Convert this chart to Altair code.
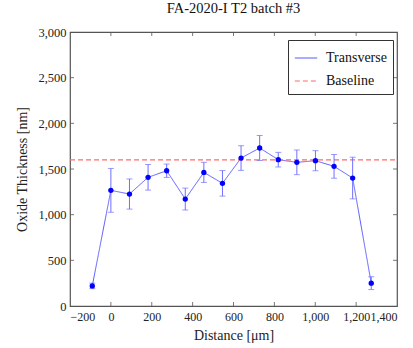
import altair as alt
import pandas as pd

distance = [-91, 0, 91, 182, 273, 364, 455, 546, 637, 728, 819, 910, 1001, 1092, 1183, 1274]
thickness = [220, 1266, 1226, 1409, 1481, 1171, 1463, 1343, 1620, 1730, 1602, 1573, 1591, 1529, 1401, 250]
error = [30, 240, 165, 140, 73, 120, 110, 140, 135, 137, 80, 135, 110, 130, 228, 70]
baseline = 1600
x_ticks = [-200, 0, 200, 400, 600, 800, 1000, 1200, 1400]
y_ticks = [0, 500, 1000, 1500, 2000, 2500, 3000]

W, H = 327, 274
FONT = "Liberation Serif, serif"
BLUE = "#0000ff"
LINE_BLUE = "#5a5aff"
ERR_BLUE = "#6f6fff"
RED = "#ff6b6b"
FRAME = "#555555"

df = pd.DataFrame({
    "d": distance,
    "t": thickness,
    "lo": [t - e for t, e in zip(thickness, error)],
    "hi": [t + e for t, e in zip(thickness, error)],
    "series": ["Transverse"] * len(distance),
})
base_df = pd.DataFrame({"d": [-200, 1400], "t": [baseline, baseline], "series": ["Baseline", "Baseline"]})

xs = alt.Scale(domain=[-200, 1400], nice=False, zero=False)
ys = alt.Scale(domain=[0, 3000], nice=False)

fonts = dict(labelFont=FONT, titleFont=FONT, titleFontSize=14,
             titleFontWeight="normal", labelColor="#222", titleColor="#222")
x_axis = alt.Axis(values=x_ticks, labelPadding=5, ticks=False, grid=False, domain=False,
                  labelOverlap=False, title="Distance [μm]", titlePadding=6, labelFontSize=12,
                  labelExpr="datum.value < 0 ? '−' + format(-datum.value, ',') : format(datum.value, ',')",
                  **fonts)
y_axis = alt.Axis(values=y_ticks, labelPadding=4, ticks=False, grid=False, domain=False,
                  labelOverlap=False, title="Oxide Thickness [nm]", titlePadding=8, labelFontSize=12.5,
                  labelExpr="format(datum.value, ',')", **fonts)

color = alt.Color("series:N",
                  scale=alt.Scale(domain=["Transverse", "Baseline"], range=[LINE_BLUE, RED]),
                  legend=alt.Legend(title=None, orient="none", legendX=218, legendY=8,
                                    symbolType="stroke", symbolSize=500, symbolStrokeWidth=1.2,
                                    strokeColor="#333", fillColor="white", padding=6,
                                    rowPadding=4, labelOffset=8))
dash = alt.StrokeDash("series:N",
                      scale=alt.Scale(domain=["Transverse", "Baseline"], range=[[1, 0], [5, 3]]),
                      legend=None)


def X(f):
    return alt.X(f, scale=xs, axis=x_axis)


def Y(f):
    return alt.Y(f, scale=ys, axis=y_axis)


line = alt.Chart(df).mark_line(strokeWidth=1).encode(
    x=X("d:Q"), y=Y("t:Q"), color=color, strokeDash=dash,
)
base = alt.Chart(base_df).mark_line(strokeWidth=1.2).encode(
    x=X("d:Q"), y=Y("t:Q"), color=color, strokeDash=dash,
)
err = alt.Chart(df).mark_rule(color=ERR_BLUE, strokeWidth=1).encode(
    x=X("d:Q"), y=Y("lo:Q"), y2="hi:Q")
cap_lo = alt.Chart(df).mark_tick(color=ERR_BLUE, orient="horizontal", size=6, thickness=1).encode(
    x=X("d:Q"), y=Y("lo:Q"))
cap_hi = alt.Chart(df).mark_tick(color=ERR_BLUE, orient="horizontal", size=6, thickness=1).encode(
    x=X("d:Q"), y=Y("hi:Q"))
pts = alt.Chart(df).mark_circle(color=BLUE, opacity=1, size=28).encode(
    x=X("d:Q"), y=Y("t:Q"))

xt = pd.DataFrame({"v": x_ticks[1:-1]})
yt = pd.DataFrame({"v": y_ticks[1:-1]})
tick_b = alt.Chart(xt).mark_rule(color=FRAME, strokeWidth=0.8).encode(
    x=X("v:Q"), y=alt.value(H), y2=alt.value(H - 4))
tick_t = alt.Chart(xt).mark_rule(color=FRAME, strokeWidth=0.8).encode(
    x=X("v:Q"), y=alt.value(0), y2=alt.value(4))
tick_l = alt.Chart(yt).mark_rule(color=FRAME, strokeWidth=0.8).encode(
    y=Y("v:Q"), x=alt.value(0), x2=alt.value(4))
tick_r = alt.Chart(yt).mark_rule(color=FRAME, strokeWidth=0.8).encode(
    y=Y("v:Q"), x=alt.value(W), x2=alt.value(W - 4))

chart = alt.layer(line, base, err, cap_lo, cap_hi, pts, tick_b, tick_t, tick_l, tick_r).properties(
    width=W, height=H,
    title=alt.TitleParams("FA-2020-I T2 batch #3", offset=10),
    autosize=alt.AutoSizeParams(type="none"),
    padding={"left": 70, "top": 32, "right": 16, "bottom": 42},
).configure(
    font=FONT, background="white",
    style={"guide-label": {"font": FONT}, "guide-title": {"font": FONT}},
).configure_view(
    stroke=FRAME, strokeWidth=1.2
).configure_axis(
    labelFont=FONT, labelColor="#222",
    titleFont=FONT, titleFontSize=14, titleFontWeight="normal", titleColor="#222",
).configure_legend(
    labelFont=FONT, labelFontSize=14, labelColor="#111",
).configure_title(
    font=FONT, fontSize=14.5, fontWeight="normal", color="#111",
)

chart.save("out.html", embed_options={"renderer": "svg", "actions": False})
